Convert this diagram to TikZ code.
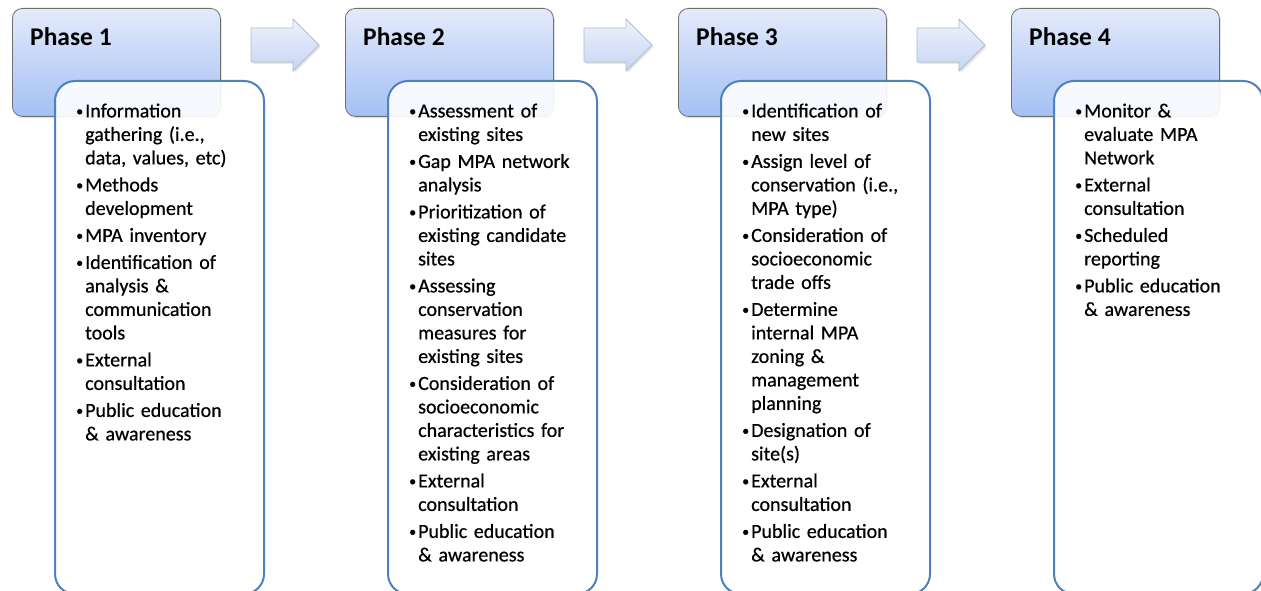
\documentclass[tikz,border=0pt]{standalone}
\usepackage{fontspec}
\setmainfont{Carlito}
\newfontfamily\listfont[FakeBold=0.6]{Carlito}
\usetikzlibrary{shadows}
\definecolor{hdtop}{RGB}{228,234,251}
\definecolor{hdbot}{RGB}{163,192,244}
\definecolor{hdline}{RGB}{112,112,112}
\definecolor{boxline}{RGB}{79,129,189}
\definecolor{artop}{RGB}{238,242,252}
\definecolor{arbot}{RGB}{198,214,244}
\definecolor{arline}{RGB}{178,186,204}
\newcommand{\itm}[1]{\par\hangindent=10pt\hangafter=1\noindent\makebox[10pt][l]{\rule{0pt}{16pt}\hspace{1pt}\raisebox{1.6pt}{\fontsize{14pt}{14pt}\selectfont\textbullet}}#1}
\newcommand{\drawphase}[4]{%
  \node[header] (h#1) at (#2+12,8) {};
  \node[phasetitle] (t#1) at (#2+30,46) {Phase #1};
  \node[textbox] (b#1) at (#2+54,80) {};
  \node[itemlist] (l#1) at (#2+75,90.2) {\raggedright #4\par};
}
\newcommand{\drawarrow}[2]{%
  \path[blockarrow] (#2+251,28) -- (#2+293,28) -- (#2+293,19) -- (#2+319,45)
     -- (#2+293,71) -- (#2+293,62) -- (#2+251,62) -- cycle;
}
\begin{document}
\begin{tikzpicture}[x=1pt,y=-1pt,
  header/.style={draw=hdline, line width=0.8pt, rounded corners=10pt,
    top color=hdtop, bottom color=hdbot, minimum width=208pt,
    minimum height=108pt, inner sep=0pt, anchor=north west,
    drop shadow={shadow xshift=1.5pt, shadow yshift=-2pt, opacity=0.22}},
  phasetitle/.style={font=\bfseries\fontsize{25.5pt}{30pt}\selectfont,
    anchor=base west, inner sep=0pt},
  textbox/.style={draw=boxline, line width=2pt, rounded corners=20pt,
    fill=white, fill opacity=0.9, minimum width=209pt, minimum height=513pt,
    inner sep=0pt, anchor=north west},
  itemlist/.style={anchor=north west, inner sep=0pt, text width=185pt,
    font=\listfont\fontsize{20pt}{23.5pt}\selectfont\setlength{\parskip}{3.5pt}},
  blockarrow/.style={draw=arline, line width=0.8pt, top color=artop,
    bottom color=arbot, drop shadow={shadow xshift=1.5pt, shadow yshift=-2pt, opacity=0.2}}
]
\useasboundingbox (0,0) rectangle (1261,591);
\clip (0,0) rectangle (1261,591);
\fill[white] (0,0) rectangle (1261,591);

\drawarrow{1}{0}
\drawarrow{2}{333}
\drawarrow{3}{666}

\drawphase{1}{0}{}{%
\itm{Information\newline gathering (i.e.,\newline data, values, etc)}
\itm{Methods\newline development}
\itm{MPA inventory}
\itm{Identification of\newline analysis \&\newline communication\newline tools}
\itm{External\newline consultation}
\itm{Public education\newline \& awareness}}

\drawphase{2}{333}{}{%
\itm{Assessment of\newline existing sites}
\itm{Gap MPA network\newline analysis}
\itm{Prioritization of\newline existing candidate\newline sites}
\itm{Assessing\newline conservation\newline measures for\newline existing sites}
\itm{Consideration of\newline socioeconomic\newline characteristics for\newline existing areas}
\itm{External\newline consultation}
\itm{Public education\newline \& awareness}}

\drawphase{3}{666}{}{%
\itm{Identification of\newline new sites}
\itm{Assign level of\newline conservation (i.e.,\newline MPA type)}
\itm{Consideration of\newline socioeconomic\newline trade offs}
\itm{Determine\newline internal MPA\newline zoning \&\newline management\newline planning}
\itm{Designation of\newline site(s)}
\itm{External\newline consultation}
\itm{Public education\newline \& awareness}}

\drawphase{4}{999}{}{%
\itm{Monitor \&\newline evaluate MPA\newline Network}
\itm{External\newline consultation}
\itm{Scheduled\newline reporting}
\itm{Public education\newline \& awareness}}
\end{tikzpicture}
\end{document}
